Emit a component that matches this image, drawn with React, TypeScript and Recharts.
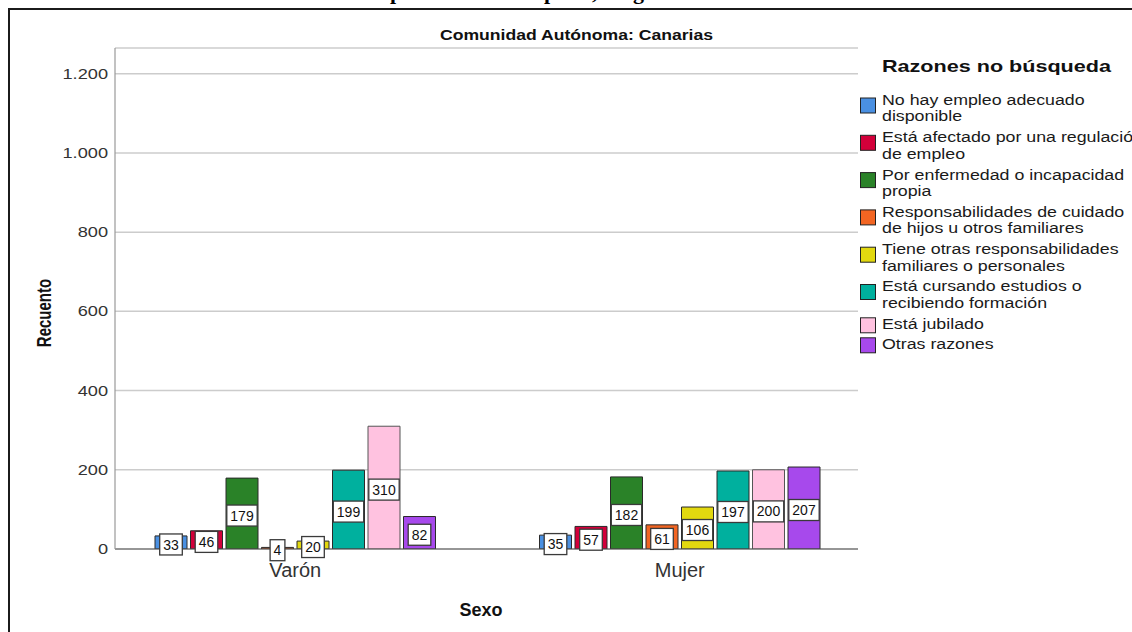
import React from 'react';
import { BarChart, Bar, XAxis, YAxis, CartesianGrid, LabelList } from 'recharts';

// ---- data ----
const categories = ['Varón', 'Mujer'];
const noEmpleoAdecuado = [33, 35];
const regulacionEmpleo = [46, 57];
const enfermedadPropia = [179, 182];
const cuidadoHijos = [4, 61];
const otrasResponsabilidades = [20, 106];
const cursandoEstudios = [199, 197];
const jubilado = [310, 200];
const otrasRazones = [82, 207];
const yTicks = [0, 200, 400, 600, 800, 1000, 1200];

const seriesKeys = ['s1', 's2', 's3', 's4', 's5', 's6', 's7', 's8'];
const seriesValues = [
  noEmpleoAdecuado,
  regulacionEmpleo,
  enfermedadPropia,
  cuidadoHijos,
  otrasResponsabilidades,
  cursandoEstudios,
  jubilado,
  otrasRazones,
];
const seriesColors = ['#4a90e2', '#d2003a', '#2a8228', '#f26522', '#e2d80f', '#00b09e', '#ffc2e0', '#a749ec'];
const seriesStrokes = ['#2a2a2a', '#2a2a2a', '#2a2a2a', '#2a2a2a', '#2a2a2a', '#2a2a2a', '#555555', '#2a2a2a'];
const legendLines = [
  ['No hay empleo adecuado', 'disponible'],
  ['Está afectado por una regulación', 'de empleo'],
  ['Por enfermedad o incapacidad', 'propia'],
  ['Responsabilidades de cuidado', 'de hijos u otros familiares'],
  ['Tiene otras responsabilidades', 'familiares o personales'],
  ['Está cursando estudios o', 'recibiendo formación'],
  ['Está jubilado'],
  ['Otras razones'],
];

const data = categories.map((c, i) => {
  const row: any = { sexo: c };
  seriesKeys.forEach((k, j) => {
    row[k] = seriesValues[j][i];
  });
  return row;
});

const SANS = '"Liberation Sans", Arial, sans-serif';
const STRETCH = 1.27;

const fmt = (v: number) => String(v).replace(/\B(?=(\d{3})+(?!\d))/g, '.');

const ValueBox = (props: any) => {
  const { x, y, width, height, value } = props;
  const cx = Number(x) + Number(width) / 2;
  const cy = Number(y) + Number(height) / 2 + 2;
  const s = String(value);
  const w = s.length * 7.8 + 7;
  const h = 21;
  return (
    <g>
      <rect x={cx - w / 2} y={cy - h / 2} width={w} height={h} fill="#ffffff" stroke="#3a3a3a" strokeWidth={1.3} />
      <text x={cx} y={cy} dy="0.36em" textAnchor="middle" fontSize={14} fontFamily={SANS} fill="#111">
        {s}
      </text>
    </g>
  );
};

const XTick = (props: any) => {
  const { x, y, payload } = props;
  return (
    <text x={x} y={y} dy={28} textAnchor="middle" fontSize={20} fontFamily={SANS} fill="#333">
      {payload.value}
    </text>
  );
};

const YTick = (props: any) => {
  const { x, y, payload } = props;
  return (
    <text
      transform={`translate(${x},${y}) scale(${STRETCH + 0.03},1)`}
      dy="0.36em"
      textAnchor="end"
      fontSize={14}
      fontFamily={SANS}
      fill="#333"
    >
      {fmt(payload.value)}
    </text>
  );
};

export default function App() {
  let cursor = 100;
  const legendItems = legendLines.map((lines, i) => {
    const top = cursor;
    cursor += lines.length > 1 ? 37.3 : 20;
    return { lines, top, i };
  });

  return (
    <div style={{ position: 'fixed', left: 0, top: 0, width: 1132, height: 632, overflow: 'hidden', background: '#fff' }}>
      <div
        style={{
          position: 'absolute',
          left: 8,
          top: 8,
          width: 1300,
          height: 800,
          border: '2px solid #1b1b1b',
          boxSizing: 'border-box',
        }}
      />
      <div style={{ position: 'absolute', left: 0, top: 0 }}>
        <BarChart
          width={1132}
          height={632}
          data={data}
          margin={{ top: 48, right: 274, bottom: 53, left: 55 }}
          barSize={32}
          barGap={3.5}
        >
          <CartesianGrid vertical={false} stroke="#cccccc" strokeWidth={1.5} />
          <XAxis
            dataKey="sexo"
            height={30}
            padding={{ left: -12, right: -14 }}
            tickLine={false}
            tickSize={0}
            tickMargin={0}
            axisLine={{ stroke: '#555555', strokeWidth: 1.2 }}
            tick={<XTick />}
            interval={0}
          />
          <YAxis
            width={60}
            domain={[0, 1265]}
            ticks={yTicks}
            tickLine={false}
            tickSize={0}
            tickMargin={7}
            axisLine={{ stroke: '#999999', strokeWidth: 1.2 }}
            tick={<YTick />}
            allowDataOverflow
          />
          {seriesKeys.map((k, j) => (
            <Bar
              key={k}
              dataKey={k}
              fill={seriesColors[j]}
              stroke={seriesStrokes[j]}
              strokeWidth={1}
              isAnimationActive={false}
            >
              <LabelList dataKey={k} content={<ValueBox />} />
            </Bar>
          ))}
        </BarChart>
      </div>
      <svg width={1132} height={632} style={{ position: 'absolute', left: 0, top: 0, pointerEvents: 'none' }}>
        {/* cropped page title fragment above the frame */}
        <g fontFamily='"Liberation Serif", "Times New Roman", serif' fontWeight="bold" fontSize={22} fill="#000">
          <text x={390} y={-1}>p</text>
          <text x={544} y={-1}>p</text>
          <text x={592} y={-1}>,</text>
          <text x={633} y={-1}>g</text>
        </g>
        <text
          x={440}
          y={40}
          fontFamily={SANS}
          fontWeight="bold"
          fontSize={14.5}
          fill="#111"
          textLength={273}
          lengthAdjust="spacingAndGlyphs"
        >
          Comunidad Autónoma: Canarias
        </text>
        <text
          transform="translate(51,313) rotate(-90) scale(1,1.4)"
          textAnchor="middle"
          fontFamily={SANS}
          fontWeight="bold"
          fontSize={15}
          fill="#111"
        >
          Recuento
        </text>
        <text x={481} y={616} textAnchor="middle" fontFamily={SANS} fontWeight="bold" fontSize={18} fill="#111">
          Sexo
        </text>
        <text
          x={882}
          y={72}
          fontFamily={SANS}
          fontWeight="bold"
          fontSize={17}
          fill="#111"
          textLength={229}
          lengthAdjust="spacingAndGlyphs"
        >
          Razones no búsqueda
        </text>
        {legendItems.map(({ lines, top, i }) => (
          <g key={i}>
            <rect
              x={860.5}
              y={top + (lines.length > 1 ? 5 : 1) - 7}
              width={15}
              height={15}
              fill={seriesColors[i]}
              stroke="#222"
              strokeWidth={1}
            />
            <g transform={`translate(882,0) scale(${STRETCH},1)`}>
              {lines.map((ln, li) => (
                <text key={li} x={0} y={top + li * 16.5 + 5} fontFamily={SANS} fontSize={14} fill="#1a1a1a">
                  {ln}
                </text>
              ))}
            </g>
          </g>
        ))}
      </svg>
    </div>
  );
}
